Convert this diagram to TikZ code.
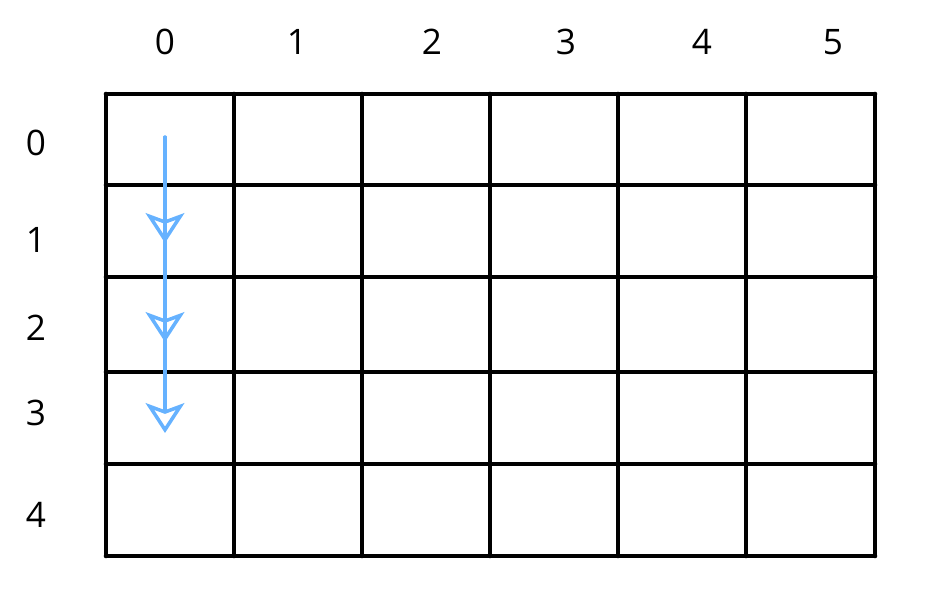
\documentclass[tikz,border=0pt]{standalone}
\usepackage{fontspec}
\setmainfont{Open Sans}
\usetikzlibrary{arrows.meta}
\definecolor{arrowblue}{HTML}{66B2FF}

\begin{document}
\begin{tikzpicture}[x=0.02cm, y=-0.02cm,
  lbl/.style={font=\fontsize{20}{24}\selectfont, inner sep=0pt},
  cell/.style={line width=2.6pt, line cap=round},
  walk/.style={arrowblue, line width=1.8pt, line cap=round,
    -{Stealth[open, inset=4pt, length=17pt, width=22pt, line width=2pt]}}]

\useasboundingbox (0,0) rectangle (938,606);

% grid
\foreach \x in {106,234,362,490,618,746,875}
  \draw[cell] (\x,94) -- (\x,556);
\foreach \y in {94,185,277,372,464,556}
  \draw[cell] (106,\y) -- (875,\y);

% column and row labels
\foreach \i/\x in {0/165,1/297,2/432,3/566,4/702,5/833}
  \node[lbl] (c\i) at (\x,42) {\i};
\foreach \i/\y in {0/143,1/240,2/328,3/413,4/515}
  \node[lbl] (r\i) at (36,\y) {\i};

% path down column 0
\coordinate (a0) at (165,137);
\coordinate (a1) at (165,243);
\coordinate (a2) at (165,342);
\coordinate (a3) at (165,433);
\draw[arrowblue, line width=1.8pt, line cap=round] (a0) -- (a2);
\draw[walk] (a0) -- (a1);
\draw[walk] (a1) -- (a2);
\draw[walk] (a2) -- (a3);

\end{tikzpicture}
\end{document}
